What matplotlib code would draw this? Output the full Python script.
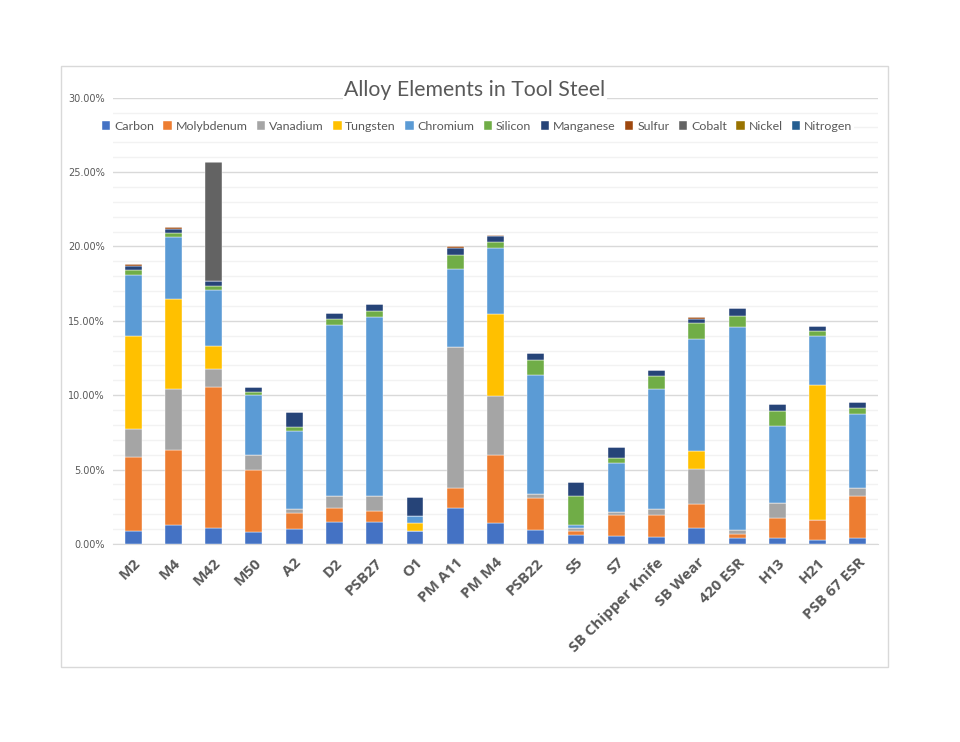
import matplotlib
matplotlib.use("Agg")
import matplotlib.pyplot as plt
import numpy as np
from matplotlib.patches import Rectangle
from matplotlib.ticker import PercentFormatter, MultipleLocator
from matplotlib.transforms import ScaledTranslation

steels = ["M2", "M4", "M42", "M50", "A2", "D2", "PSB27", "O1", "PM A11", "PM M4",
          "PSB22", "S5", "S7", "SB Chipper Knife", "SB Wear", "420 ESR", "H13", "H21", "PSB 67 ESR"]

carbon     = [0.85, 1.30, 1.08, 0.80, 1.00, 1.50, 1.50, 0.90, 2.45, 1.40, 0.97, 0.58, 0.52, 0.45, 1.10, 0.37, 0.38, 0.30, 0.37]
molybdenum = [5.00, 5.00, 9.50, 4.20, 1.10, 0.90, 0.72, 0.00, 1.30, 4.55, 2.13, 0.30, 1.40, 1.48, 1.58, 0.28, 1.38, 1.32, 2.87]
vanadium   = [1.90, 4.15, 1.15, 1.00, 0.22, 0.80, 1.03, 0.00, 9.50, 4.00, 0.24, 0.22, 0.25, 0.43, 2.38, 0.30, 0.97, 0.00, 0.52]
tungsten   = [6.20, 6.00, 1.55, 0.00, 0.00, 0.00, 0.00, 0.50, 0.00, 5.50, 0.00, 0.00, 0.00, 0.00, 1.17, 0.00, 0.00, 9.05, 0.00]
chromium   = [4.15, 4.20, 3.80, 4.00, 5.25, 11.50, 12.00, 0.50, 5.25, 4.45, 8.00, 0.20, 3.25, 8.05, 7.55, 13.65, 5.18, 3.32, 4.98]
silicon    = [0.30, 0.27, 0.25, 0.20, 0.32, 0.40, 0.43, 0.00, 0.90, 0.43, 1.03, 1.90, 0.34, 0.85, 1.08, 0.72, 1.00, 0.34, 0.40]
manganese  = [0.32, 0.27, 0.35, 0.35, 0.95, 0.43, 0.47, 1.28, 0.50, 0.36, 0.45, 0.94, 0.74, 0.45, 0.29, 0.56, 0.52, 0.30, 0.42]
sulfur     = [0.10, 0.10, 0.00, 0.00, 0.00, 0.00, 0.00, 0.00, 0.15, 0.10, 0.00, 0.00, 0.00, 0.00, 0.10, 0.00, 0.00, 0.00, 0.00]
cobalt     = [0.00, 0.00, 8.00, 0.00, 0.00, 0.00, 0.00, 0.00, 0.00, 0.00, 0.00, 0.00, 0.00, 0.00, 0.00, 0.00, 0.00, 0.00, 0.00]
nickel     = [0.00, 0.00, 0.00, 0.00, 0.00, 0.00, 0.00, 0.00, 0.00, 0.00, 0.00, 0.00, 0.00, 0.00, 0.00, 0.00, 0.00, 0.00, 0.00]
nitrogen   = [0.00, 0.00, 0.00, 0.00, 0.00, 0.00, 0.00, 0.00, 0.00, 0.00, 0.00, 0.00, 0.00, 0.00, 0.00, 0.00, 0.00, 0.00, 0.00]

element_names = ["Carbon", "Molybdenum", "Vanadium", "Tungsten", "Chromium", "Silicon",
                 "Manganese", "Sulfur", "Cobalt", "Nickel", "Nitrogen"]
element_values = [carbon, molybdenum, vanadium, tungsten, chromium, silicon,
                  manganese, sulfur, cobalt, nickel, nitrogen]
colors = ["#4472C4", "#ED7D31", "#A5A5A5", "#FFC000", "#5B9BD5", "#70AD47",
          "#264478", "#9E480E", "#636363", "#997300", "#255E91"]

W, H = 960, 742
fig = plt.figure(figsize=(W / 100, H / 100), dpi=100)
fig.patch.set_facecolor("white")

# chart frame
fig.add_artist(Rectangle((61 / W, 1 - 667 / H), (888 - 61) / W, (667 - 66) / H,
                         transform=fig.transFigure, fill=False, edgecolor="#D9D9D9", linewidth=1.0))

left, right = 113, 878
top, bottom = 97.7, 544
ax = fig.add_axes([left / W, 1 - bottom / H, (right - left) / W, (bottom - top) / H])

x = np.arange(len(steels))
base = np.zeros(len(steels))
handles = []
for name, vals, c in zip(element_names, element_values, colors):
    v = np.array(vals) / 100.0
    b = ax.bar(x, v, 0.42, bottom=base, color=c, edgecolor="white", linewidth=0.3, label=name, zorder=3)
    handles.append(b)
    base += v

ax.set_xlim(-0.5, len(steels) - 0.5)
ax.set_ylim(0, 0.30)
ax.yaxis.set_major_locator(MultipleLocator(0.05))
ax.yaxis.set_minor_locator(MultipleLocator(0.01))
ax.yaxis.set_major_formatter(PercentFormatter(1.0, decimals=2))
ax.grid(axis="y", which="major", color="#D9D9D9", linewidth=1.0, zorder=0)
ax.grid(axis="y", which="minor", color="#F2F2F2", linewidth=1.0, zorder=0)
for s in ["top", "right", "left"]:
    ax.spines[s].set_visible(False)
ax.spines["bottom"].set_color("#D9D9D9")
ax.tick_params(axis="y", which="both", length=0, labelsize=7, labelcolor="#595959", pad=6)
ax.tick_params(axis="x", length=0, pad=4)
ax.set_xticks(x)
ax.set_xticklabels(steels, rotation=45, ha="right", va="center", rotation_mode="anchor",
                   fontsize=11, fontweight="bold", color="#595959", family="Open Sans")
off = ScaledTranslation(5 / 100, -11 / 100, fig.dpi_scale_trans)
for lbl in ax.get_xticklabels():
    lbl.set_transform(lbl.get_transform() + off)

fig.text(475 / W, 1 - 90 / H, "Alloy Elements in Tool Steel", ha="center", va="center",
         fontsize=15.3, color="#595959", family="Lato",
         bbox=dict(facecolor="white", edgecolor="none", pad=1))

leg = fig.legend(handles=handles, labels=element_names, loc="center", ncol=11,
                 bbox_to_anchor=(477 / W, 1 - 126 / H), frameon=True,
                 handlelength=0.7, handleheight=0.7, handletextpad=0.3, columnspacing=0.75,
                 borderpad=0.1, prop={"family": "Lato", "size": 8.9})
leg.get_frame().set_edgecolor("none")
leg.get_frame().set_facecolor("white")
leg.get_frame().set_alpha(1.0)
for t in leg.get_texts():
    t.set_color("#595959")

fig.savefig("out.png", dpi=100, facecolor="white")
